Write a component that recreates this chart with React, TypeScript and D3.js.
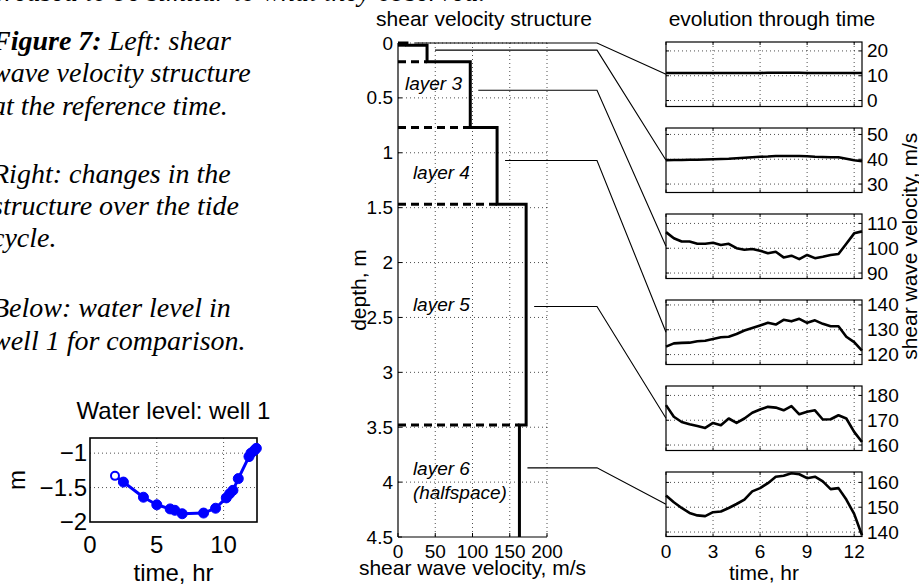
import React from 'react';
import * as d3 from 'd3';

// ---------- caption (document text around the figure) ----------
const captionTopLine = 'creased to be similar to what they observed.';
const captionBold = 'Figure 7:';
const captionLines = [
  ' Left: shear',
  'wave velocity structure',
  'at the reference time.',
  'Right: changes in the',
  'structure over the tide',
  'cycle.',
  'Below: water level in',
  'well 1 for comparison.',
];
const captionBaselines = [50, 82, 115, 183, 215, 247, 317, 350];

// ---------- left panel: velocity structure ----------
const layerVelocity = [12, 39, 97, 133, 172, 163];
const layerTop = [0, 0.02, 0.17, 0.77, 1.47, 3.48];
const layerBottom = [0.02, 0.17, 0.77, 1.47, 3.48, 4.5];
const connectorDepth = [0, 0.065, 0.43, 1.07, 2.4, 3.87];
const depthTicks = [0, 0.5, 1, 1.5, 2, 2.5, 3, 3.5, 4, 4.5];
const velocityTicks = [0, 50, 100, 150, 200];
const layerLabelText = ['layer 3', 'layer 4', 'layer 5', 'layer 6', '(halfspace)'];
const layerLabelVel = [9.4, 20, 20, 20, 20];
const layerLabelDepth = [0.428, 1.239, 2.44, 3.934, 4.153];

// ---------- right panels: evolution through time ----------
const timeHr = [0, 0.5, 1, 1.5, 2, 2.5, 3, 3.5, 4, 4.5, 5, 5.5, 6, 6.5, 7, 7.5, 8, 8.5, 9, 9.5, 10, 10.5, 11, 11.5, 12, 12.5];
const vsLayer1 = [11.1, 11.1, 11.1, 11.1, 11.1, 11.1, 11.1, 11.1, 11.1, 11.1, 11.1, 11.1, 11.1, 11.2, 11.2, 11.2, 11.2, 11.2, 11.1, 11.1, 11.1, 11.1, 11.1, 11.1, 11.1, 11.1];
const vsLayer2 = [39.6, 39.7, 39.7, 39.8, 39.8, 39.9, 40.0, 40.1, 40.2, 40.4, 40.6, 40.8, 41.0, 41.1, 41.3, 41.3, 41.3, 41.3, 41.2, 41.0, 40.9, 40.8, 40.8, 40.2, 39.6, 39.2];
const vsLayer3 = [106.5, 104, 102.7, 102.7, 101.8, 101.8, 102.2, 101.3, 101.8, 100, 99.4, 99.7, 99, 98, 98.6, 96.3, 97, 95.6, 97.3, 96, 96.6, 97.3, 97.7, 101.8, 106, 106.8];
const vsLayer4 = [123.2, 124.5, 124.7, 124.8, 125.4, 125.6, 126.3, 127, 127.2, 128.3, 129.7, 130.7, 131.7, 132.8, 132.1, 134, 133.4, 134.4, 132.8, 133.8, 132.4, 131.4, 131.4, 127.2, 125, 121.6];
const vsLayer5 = [176.1, 171.4, 169.3, 168.4, 167.7, 166.9, 168.9, 168, 170.7, 168.9, 170.7, 173, 174.3, 175.4, 175.1, 174, 175.7, 172.4, 173.4, 174, 170.3, 170.4, 172, 170.7, 165.3, 161.2];
const vsLayer6 = [154.7, 152, 149.7, 147.7, 146.7, 146.4, 148, 148.3, 149.7, 151.3, 153.1, 156.4, 157.7, 159.7, 162.3, 162.7, 163.7, 163.3, 161.7, 162.3, 160.4, 157.3, 157.7, 153.1, 147.3, 138.7];
const panelSeries = [vsLayer1, vsLayer2, vsLayer3, vsLayer4, vsLayer5, vsLayer6];
const panelYMin = [-2.4, 26.6, 87.8, 116, 157.8, 138.2];
const panelYMax = [23.6, 52.6, 113.8, 142, 183.8, 164.2];
const panelYTicks = [[0, 10, 20], [30, 40, 50], [90, 100, 110], [120, 130, 140], [160, 170, 180], [140, 150, 160]];
const timeTicks = [0, 3, 6, 9, 12];

// ---------- inset: water level in well 1 ----------
const wellTime = [1.87, 2.5, 4.0, 5.0, 6.0, 6.35, 6.9, 8.5, 9.4, 10.2, 10.45, 10.7, 11.1, 11.9, 12.05, 12.3, 12.45];
const wellLevel = [-1.33, -1.42, -1.64, -1.75, -1.81, -1.83, -1.88, -1.87, -1.8, -1.65, -1.59, -1.54, -1.37, -1.05, -1.0, -0.96, -0.93];
const wellTimeTicks = [0, 5, 10];
const wellLevelTicks = [-2, -1.5, -1];

const SANS = "'Liberation Sans', Arial, Helvetica, sans-serif";
const SERIF = "'Liberation Serif', 'Times New Roman', Times, serif";
const TICK = 19;
const LAB = 21;
const GRID = { stroke: '#222', strokeWidth: 0.8, strokeDasharray: '1,3' };

export default function App() {
  const xV = d3.scaleLinear().domain([0, 200]).range([398, 547]);
  const yD = d3.scaleLinear().domain([0, 4.5]).range([43, 537]);
  const xT = d3.scaleLinear().domain([0, 12.5]).range([666, 862]);
  const PH = 64.5;
  const panelTop = (i: number) => 42 + i * 86;
  const xW = d3.scaleLinear().domain([0, 12.5]).range([90, 257]);
  const yW = d3.scaleLinear().domain([-2, -0.78]).range([522, 438]);

  const profilePts: [number, number][] = [[0, 0]];
  layerVelocity.forEach((v, i) => {
    profilePts.push([v, layerTop[i]]);
    profilePts.push([v, layerBottom[i]]);
  });
  const profileLine = d3.line<[number, number]>().x((d) => xV(d[0])).y((d) => yD(d[1]));

  const fmtMinus = (v: number) => String(v).replace('-', '\u2212');

  return (
    <svg width={919} height={585} style={{ position: 'absolute', left: 0, top: 0 }} xmlns="http://www.w3.org/2000/svg">
      <rect x={0} y={0} width={919} height={585} fill="#fff" />

      {/* caption */}
      <g fontFamily={SERIF} fontStyle="italic" fontSize={28} fill="#000">
        <text x={-8} y={1}>{captionTopLine}</text>
        {captionLines.map((t, i) => (
          <text key={i} x={-8} y={captionBaselines[i]}>
            {i === 0 ? <tspan fontWeight="bold">{captionBold}</tspan> : null}
            {t}
          </text>
        ))}
      </g>

      {/* ---- left panel ---- */}
      <g>
        {velocityTicks.filter((v) => v > 0).map((v) => (
          <line key={'gv' + v} x1={xV(v)} x2={xV(v)} y1={yD(0)} y2={yD(4.5)} {...GRID} />
        ))}
        {depthTicks.filter((d) => d < 4.5).map((d) => (
          <line key={'gd' + d} x1={xV(0)} x2={xV(200)} y1={yD(d)} y2={yD(d)} {...GRID} />
        ))}
        <line x1={xV(0)} x2={xV(0)} y1={yD(0)} y2={yD(4.5)} stroke="#000" strokeWidth={1.2} />
        <line x1={xV(0)} x2={xV(200)} y1={yD(4.5)} y2={yD(4.5)} stroke="#000" strokeWidth={1.2} />
        {depthTicks.map((d) => (
          <line key={'td' + d} x1={xV(0)} x2={xV(0) + 4} y1={yD(d)} y2={yD(d)} stroke="#000" strokeWidth={1} />
        ))}
        {velocityTicks.map((v) => (
          <line key={'tv' + v} x1={xV(v)} x2={xV(v)} y1={yD(4.5)} y2={yD(4.5) - 4} stroke="#000" strokeWidth={1} />
        ))}
        {/* layer boundaries (dashed) */}
        {layerTop.slice(1).map((d, k) => (
          <line key={'b' + k} x1={xV(0)} x2={xV(Math.min(layerVelocity[k], layerVelocity[k + 1]))} y1={yD(d)} y2={yD(d)}
            stroke="#000" strokeWidth={3} strokeDasharray="8,5" />
        ))}
        <path d={profileLine(profilePts) || ''} fill="none" stroke="#000" strokeWidth={3} />
        {/* labels */}
        <g fontFamily={SANS} fontSize={TICK} fontStyle="italic" fill="#000">
          {layerLabelText.map((t, i) => (
            <text key={t} x={xV(layerLabelVel[i])} y={yD(layerLabelDepth[i])}>{t}</text>
          ))}
        </g>
        <g fontFamily={SANS} fontSize={TICK} fill="#000">
          {depthTicks.map((d) => (
            <text key={'ld' + d} x={393} y={yD(d) + 6.5} textAnchor="end">{String(d)}</text>
          ))}
          {velocityTicks.map((v) => (
            <text key={'lv' + v} x={xV(v)} y={558} textAnchor="middle">{String(v)}</text>
          ))}
        </g>
        <g fontFamily={SANS} fontSize={LAB} fill="#000">
          <text x={484} y={26} textAnchor="middle">shear velocity structure</text>
          <text x={(xV(0) + xV(200)) / 2} y={575} textAnchor="middle">shear wave velocity, m/s</text>
          <text transform={`translate(366,${(yD(0) + yD(4.5)) / 2}) rotate(-90)`} textAnchor="middle">depth, m</text>
        </g>
      </g>

      {/* ---- connectors ---- */}
      {layerVelocity.map((v, i) => {
        const y = yD(connectorDepth[i]);
        const pts = `${xV(v) + 8},${y} 597,${y} ${xT(0)},${panelTop(i) + PH / 2}`;
        return <polyline key={'c' + i} points={pts} fill="none" stroke="#000" strokeWidth={1.1} />;
      })}

      {/* ---- right panels ---- */}
      {panelSeries.map((series, i) => {
        const top = panelTop(i);
        const yS = d3.scaleLinear().domain([panelYMin[i], panelYMax[i]]).range([top + PH, top]);
        const line = d3.line<number>().x((_, k) => xT(timeHr[k])).y((d) => yS(d));
        return (
          <g key={'p' + i}>
            {timeTicks.filter((t) => t > 0).map((t) => (
              <line key={'gt' + t} x1={xT(t)} x2={xT(t)} y1={top} y2={top + PH} {...GRID} />
            ))}
            {panelYTicks[i].map((v) => (
              <line key={'gy' + v} x1={xT(0)} x2={xT(12.5)} y1={yS(v)} y2={yS(v)} {...GRID} />
            ))}
            {timeTicks.map((t) => (
              <g key={'tt' + t}>
                <line x1={xT(t)} x2={xT(t)} y1={top + PH} y2={top + PH - 3} stroke="#000" />
                <line x1={xT(t)} x2={xT(t)} y1={top} y2={top + 3} stroke="#000" />
              </g>
            ))}
            {panelYTicks[i].map((v) => (
              <g key={'ty' + v}>
                <line x1={xT(0)} x2={xT(0) + 3} y1={yS(v)} y2={yS(v)} stroke="#000" />
                <line x1={xT(12.5)} x2={xT(12.5) - 3} y1={yS(v)} y2={yS(v)} stroke="#000" />
              </g>
            ))}
            <rect x={xT(0)} y={top} width={xT(12.5) - xT(0)} height={PH} fill="none" stroke="#000" strokeWidth={1.2} />
            <path d={line(series) || ''} fill="none" stroke="#000" strokeWidth={2.6} strokeLinejoin="round" />
            <g fontFamily={SANS} fontSize={TICK} fill="#000">
              {panelYTicks[i].map((v) => (
                <text key={'ly' + v} x={xT(12.5) + 5} y={yS(v) + 6.5}>{String(v)}</text>
              ))}
              {i === panelSeries.length - 1
                ? timeTicks.map((t) => (
                    <text key={'lt' + t} x={xT(t)} y={558} textAnchor="middle">{String(t)}</text>
                  ))
                : null}
            </g>
          </g>
        );
      })}
      <g fontFamily={SANS} fontSize={LAB} fill="#000">
        <text x={772} y={26} textAnchor="middle">evolution through time</text>
        <text x={(xT(0) + xT(12.5)) / 2} y={580} textAnchor="middle">time, hr</text>
        <text transform={`translate(917,${panelTop(2) + PH / 2}) rotate(-90)`} textAnchor="middle">shear wave velocity, m/s</text>
      </g>

      {/* ---- inset: water level ---- */}
      <g>
        {wellTimeTicks.filter((t) => t > 0).map((t) => (
          <line key={'wg' + t} x1={xW(t)} x2={xW(t)} y1={yW(-0.78)} y2={yW(-2)} {...GRID} />
        ))}
        {wellLevelTicks.filter((v) => v > -2).map((v) => (
          <line key={'wl' + v} x1={xW(0)} x2={xW(12.5)} y1={yW(v)} y2={yW(v)} {...GRID} />
        ))}
        <rect x={xW(0)} y={yW(-0.78)} width={xW(12.5) - xW(0)} height={yW(-2) - yW(-0.78)} fill="none" stroke="#000" strokeWidth={1.6} />
        <path
          d={d3.line<number>().x((t) => xW(t)).y((_, k) => yW(wellLevel[k]))(wellTime) || ''}
          fill="none" stroke="#0000ff" strokeWidth={3} strokeLinejoin="round" />
        {wellTime.map((t, k) => (
          <circle key={'wm' + k} cx={xW(t)} cy={yW(wellLevel[k])} r={k === 0 ? 4 : 5}
            fill={k === 0 ? '#fff' : '#0000ff'} stroke="#0000ff" strokeWidth={k === 0 ? 2 : 1} />
        ))}
        <g fontFamily={SANS} fontSize={24} fill="#000">
          {wellLevelTicks.map((v) => (
            <text key={'wyl' + v} x={87} y={yW(v) + 8} textAnchor="end">{fmtMinus(v)}</text>
          ))}
          {wellTimeTicks.map((t) => (
            <text key={'wxl' + t} x={xW(t)} y={553} textAnchor="middle">{String(t)}</text>
          ))}
          <text x={(xW(0) + xW(12.5)) / 2} y={419} textAnchor="middle">Water level: well 1</text>
          <text x={(xW(0) + xW(12.5)) / 2} y={581} textAnchor="middle">time, hr</text>
          <text transform={`translate(25,${(yW(-0.78) + yW(-2)) / 2}) rotate(-90)`} textAnchor="middle">m</text>
        </g>
      </g>
    </svg>
  );
}
